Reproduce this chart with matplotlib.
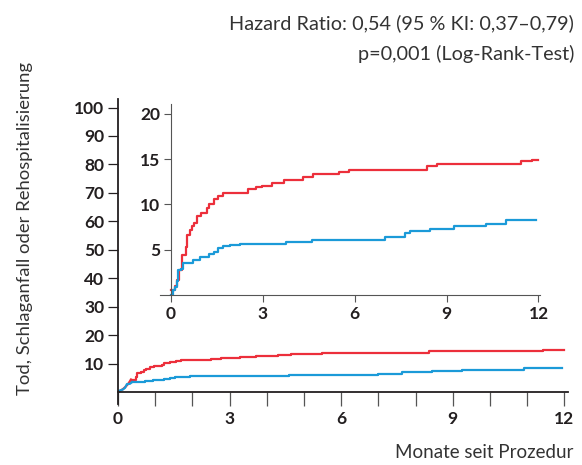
import matplotlib
matplotlib.use('Agg')
import matplotlib.pyplot as plt

plt.rcParams['font.family'] = ['Lato', 'DejaVu Sans']

# Kaplan-Meier style cumulative event curves (months, percent)
red_months = [0, 0.13, 0.19, 0.27, 0.35, 0.49, 0.51, 0.62, 0.70, 0.76, 0.86, 0.97,
              1.17, 1.25, 1.41, 1.55, 1.69, 2.50, 2.78, 2.97, 3.29, 3.70, 4.31,
              4.64, 5.48, 5.80, 8.37, 8.67, 11.42, 11.80, 12.0]
red_values = [0.6, 1.0, 1.7, 2.8, 4.4, 5.3, 6.6, 7.2, 7.6, 8.0, 8.7, 9.1,
              9.6, 10.1, 10.6, 10.9, 11.3, 11.7, 11.9, 12.0, 12.4, 12.7, 13.0,
              13.4, 13.6, 13.8, 14.3, 14.5, 14.8, 14.9, 14.9]

blue_months = [0, 0.05, 0.13, 0.19, 0.24, 0.32, 0.38, 0.73, 0.95, 1.25, 1.39, 1.52,
               1.71, 1.93, 2.26, 3.76, 4.60, 7.00, 7.63, 7.80, 8.45, 9.24,
               10.28, 10.93, 11.93]
blue_values = [0.0, 0.55, 0.9, 1.5, 2.8, 2.9, 3.5, 3.9, 4.2, 4.5, 4.8, 5.2,
               5.4, 5.5, 5.6, 5.8, 6.1, 6.4, 6.9, 7.1, 7.3, 7.6,
               7.8, 8.3, 8.3]

x_ticks = [0, 3, 6, 9, 12]
main_y_ticks = [10, 20, 30, 40, 50, 60, 70, 80, 90, 100]
inset_y_ticks = [5, 10, 15, 20]

red = '#ec2f3b'
blue = '#1b9ad8'
dark = '#231f20'
grey_text = '#333333'

W, H = 582, 465
fig = plt.figure(figsize=(W / 100, H / 100), dpi=100)

def box(x0, y_top, x1, y_bot):
    return [x0 / W, 1 - y_bot / H, (x1 - x0) / W, (y_bot - y_top) / H]

# main axes: the first weeks are drawn as a plain line (too small for steps)
ax = fig.add_axes(box(118, 99, 568, 404))
ax.plot([0] + red_months[1:5], [0] + red_values[1:5], color=red, lw=1.6)
ax.step(red_months[4:], red_values[4:], where='post', color=red, lw=1.6)
ax.plot(blue_months[:7], blue_values[:7], color=blue, lw=1.6)
ax.step(blue_months[6:], blue_values[6:], where='post', color=blue, lw=1.6)
ax.set_xlim(0, 12.1)
ax.set_ylim(-4.2, 103)
for s in ['top', 'right']:
    ax.spines[s].set_visible(False)
ax.spines['bottom'].set_position(('data', 0))
for s in ['left', 'bottom']:
    ax.spines[s].set_color(dark)
    ax.spines[s].set_linewidth(1.3)
ax.set_xticks(range(13))
ax.set_xticklabels([str(m) if m in x_ticks else '' for m in range(13)],
                   fontsize=12.5, fontweight='bold', color=dark)
ax.set_yticks(main_y_ticks)
ax.set_yticklabels([str(v) for v in main_y_ticks], fontsize=12.5,
                   fontweight='bold', color=dark)
ax.tick_params(axis='x', length=10, width=0.9, color='#555555', pad=4)
ax.tick_params(axis='y', length=7, width=0.9, color=dark, pad=3)
ax.set_ylabel('Tod, Schlaganfall oder Rehospitalisierung', fontsize=13.3,
              color=grey_text)
ax.yaxis.set_label_coords(-0.189, 0.575)

# inset axes
ins = fig.add_axes(box(160, 104, 540, 295))
ins.step(red_months, red_values, where='post', color=red, lw=1.6)
ins.step(blue_months, blue_values, where='post', color=blue, lw=1.6)
ins.set_xlim(-0.36, 12.05)
ins.set_ylim(0, 21.1)
ins.patch.set_alpha(0)
for s in ['top', 'right']:
    ins.spines[s].set_visible(False)
ins.spines['left'].set_position(('data', 0))
ins.spines['left'].set_color('#555555')
ins.spines['bottom'].set_color('#555555')
ins.set_xticks(x_ticks)
ins.set_xticklabels([str(v) for v in x_ticks], fontsize=12.5,
                    fontweight='bold', color=dark)
ins.set_yticks(inset_y_ticks)
ins.set_yticklabels([str(v) for v in inset_y_ticks], fontsize=12.5,
                    fontweight='bold', color=dark)
ins.tick_params(axis='both', length=5, width=0.8, color='#555555', pad=3)

# annotations
fig.text(574 / W, 1 - 23 / H, 'Hazard Ratio: 0,54 (95 % KI: 0,37–0,79)',
         ha='right', va='center', fontsize=14.3, color=grey_text)
fig.text(574 / W, 1 - 54 / H, 'p=0,001 (Log-Rank-Test)',
         ha='right', va='center', fontsize=14.3, color=grey_text)
fig.text(573 / W, 1 - 452 / H, 'Monate seit Prozedur',
         ha='right', va='center', fontsize=13.5, color=grey_text)

plt.savefig('out.png', dpi=100)
